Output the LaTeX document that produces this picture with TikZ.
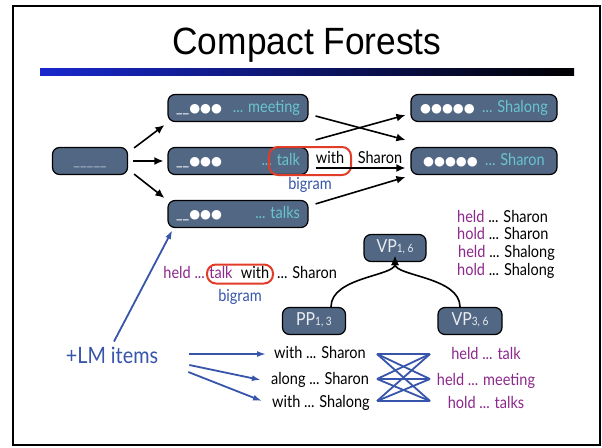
\documentclass[tikz,border=0pt]{standalone}
\usepackage{fontspec}
\setmainfont{Lato}[FakeStretch=0.88]
\newfontfamily\titlefont{Liberation Sans}
\newfontfamily\dvfont{DejaVu Sans}
\usetikzlibrary{arrows.meta,calc}
\definecolor{slate}{RGB}{82,103,132}
\definecolor{cyanT}{RGB}{105,196,208}
\definecolor{ulgray}{RGB}{170,185,200}
\definecolor{vpw}{RGB}{232,236,240}
\definecolor{purp}{RGB}{140,40,140}
\definecolor{lmblue}{RGB}{55,85,170}
\definecolor{redbox}{RGB}{225,60,40}
\definecolor{barblue}{RGB}{25,40,205}
\newcommand\bulx[1]{{\dvfont\fontsize{12.5}{12}\selectfont #1}}
\tikzset{
 box/.style={draw=black, line width=1.2pt, fill=slate, rounded corners=7pt, inner sep=0pt,
   minimum height=27pt, text height=11pt, text depth=3pt, font=\fontsize{16.5}{18}\selectfont},
 arr/.style={line width=1.6pt, -{Latex[length=9pt,width=8pt]}},
 barr/.style={draw=lmblue, line width=1.8pt, -{Latex[length=9pt,width=6pt]}},
 txt/.style={font=\fontsize{16.5}{18}\selectfont, inner sep=0pt, text height=11.5pt, text depth=3.5pt},
 redround/.style={draw=redbox, line width=2pt, rounded corners=9pt, inner sep=0pt},
 cross/.style={draw=lmblue, line width=1.8pt},
}
\begin{document}
\begin{tikzpicture}[x=1pt,y=-1pt]
\fill[white] (0,0) rectangle (602,447);
\useasboundingbox (0,0) rectangle (602,447);
\draw[line width=2.5pt] (13,6) rectangle (600,445);
% title
\node[font=\titlefont\fontsize{38}{40}\selectfont, inner sep=0pt] (title) at (307,45) {\scalebox{0.93}[1]{Compact Forests}};
\shade[left color=barblue, right color=black] (40,68) rectangle (574,75);
% top forest
\node[box, minimum width=75pt] (root) at (90,161) {\color{ulgray}\_\_\_\_\_};
\node[box, minimum width=140pt] (meet) at (238,108) {\hbox to 124pt{\color{white}\_\_\bulx{●●●}\hfill\color{cyanT}... meeting}};
\node[box, minimum width=140pt] (talk) at (238,161) {\hbox to 124pt{\color{white}\_\_\bulx{●●●}\hfill\color{cyanT}... talk}};
\node[box, minimum width=140pt] (talks) at (238,214) {\hbox to 124pt{\color{white}\_\_\bulx{●●●}\hfill\color{cyanT}... talks}};
\node[box, minimum width=146pt] (shalong) at (484,108) {\color{white}\bulx{●●●●●}\ \ \color{cyanT}... Shalong};
\node[box, minimum width=146pt] (sharon) at (484,161) {\color{white}\bulx{●●●●●}\ \ \color{cyanT}... Sharon};
\node[redround, minimum width=82pt, minimum height=28pt] (rb1) at (310,161) {};
\node[txt] (with1) at (330,159) {with};
\node[txt] (shar1) at (380,159) {Sharon};
\node[txt, text=lmblue] (big1) at (310,185) {bigram};
\draw[arr] ([shift={(6,1)}]root.north east) -- ([shift={(-3,3)}]meet.south west);
\draw[arr] ([xshift=5]root.east) -- ([xshift=-4]talk.west);
\draw[arr] ([shift={(6,-1)}]root.south east) -- ([shift={(-3,-2)}]talks.north west);
\draw[arr] ([shift={(7,8)}]meet.east) -- ([shift={(-5,-7)}]sharon.north west);
\draw[arr] ([shift={(7,-7)}]talk.north east) -- ([shift={(-5,-7)}]shalong.south west);
\draw[arr] ([shift={(7,7)}]talk.east) -- ([shift={(-5,7)}]sharon.west);
\draw[arr] ([shift={(7,4)}]talks.north east) -- ([shift={(-5,2)}]sharon.south west);
% right list
\node[txt, anchor=west] (r1) at (457,218) {{\color{purp}held} ... Sharon};
\node[txt, anchor=west] (r2) at (457,235) {{\color{purp}hold} ... Sharon};
\node[txt, anchor=west] (r3) at (458,253) {{\color{purp}held} ... Shalong};
\node[txt, anchor=west] (r4) at (457,271) {{\color{purp}hold} ... Shalong};
% lower-left bigram
\node[redround, minimum width=66pt, minimum height=19pt] (rb2) at (240,274) {};
\node[txt, anchor=east, text=purp] (held2) at (205,274) {held ...};
\node[txt, text=purp] (talk2) at (221,274) {talk};
\node[txt] (with2) at (255,274) {with};
\node[txt, anchor=west] (shar2) at (277,274) {... Sharon};
\node[txt, text=lmblue] (big2) at (240,297) {bigram};
% tree
\node[box, minimum width=62pt, font=\fontsize{18}{18}\selectfont] (vp) at (395,248) {\color{vpw}VP{\fontsize{11.5}{11}\selectfont 1, 6}};
\node[box, minimum width=63pt, font=\fontsize{18}{18}\selectfont] (pp) at (314,321) {\color{vpw}PP{\fontsize{11.5}{11}\selectfont 1, 3}};
\node[box, minimum width=64pt, font=\fontsize{18}{18}\selectfont] (vp2) at (470,321) {\color{vpw}VP{\fontsize{11.5}{11}\selectfont 3, 6}};
\coordinate (vtip) at ([yshift=6]vp.south);
\draw[arr] ([xshift=17]pp.north) .. controls +(0,-30) and +(0,20) .. (vtip);
\draw[arr] ([xshift=-10]vp2.north) .. controls +(0,-30) and +(0,20) .. (vtip);
% LM items
\node[font=\fontsize{22.5}{24}\selectfont, text=lmblue, inner sep=0pt] (lm) at (112,355) {+LM items};
\draw[barr] ([shift={(2,-5)}]lm.north) -- ([shift={(5,2)}]talks.south west);
\node[txt] (w1) at (320,354) {with ... Sharon};
\node[txt] (w2) at (320,380) {along ... Sharon};
\node[txt] (w3) at (321,403) {with ... Shalong};
\node[txt, text=purp] (h1) at (486,355) {held ... talk};
\node[txt, text=purp] (h2) at (486,381) {held ... meeting};
\node[txt, text=purp] (h3) at (486,404) {hold ... talks};
\draw[barr] ([shift={(31,-1)}]lm.east) -- ([xshift=-8]w1.west);
\draw[barr] ([shift={(31,10)}]lm.east) -- ([shift={(-10,0)}]w2.west);
\draw[barr] ([shift={(30,17)}]lm.east) -- ([shift={(-10,-2)}]w3.west);
\coordinate (L1) at (377,354);
\coordinate (L2) at (377,379);
\coordinate (L3) at (377,401);
\coordinate (R1) at (430,354);
\coordinate (R2) at (430,379);
\coordinate (R3) at (430,401);
\foreach \a in {L1,L2,L3}{\foreach \b in {R1,R2,R3}{\draw[cross] (\a) -- (\b);}}
\end{tikzpicture}
\end{document}
